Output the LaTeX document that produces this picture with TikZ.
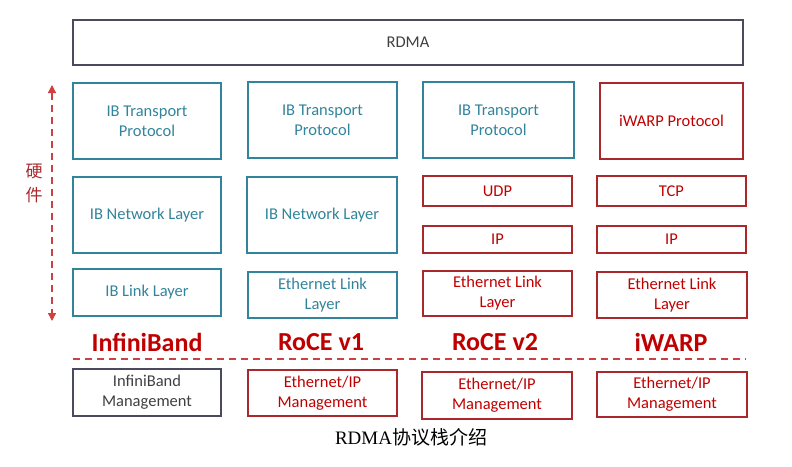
\documentclass[tikz,border=0pt]{standalone}
\usepackage{fontspec}
\setmainfont{Carlito}
\newfontfamily\cjk{Noto Sans CJK SC}
\newfontfamily\capserif{Liberation Serif}
\usetikzlibrary{arrows.meta}
\definecolor{teal}{HTML}{31849B}
\definecolor{redb}{HTML}{A8282C}
\definecolor{redt}{HTML}{C00000}
\definecolor{grayb}{HTML}{4A4A5E}
\definecolor{grayt}{HTML}{404040}
\definecolor{dashred}{HTML}{D04040}
\tikzset{
  basebox/.style={draw, line width=1.3pt, align=center, inner sep=0pt, font=\fontsize{16.5}{20}\selectfont},
  tealbox/.style={basebox, draw=teal, text=teal},
  redbox/.style={basebox, draw=redb, text=redt},
  graybox/.style={basebox, draw=grayb, text=grayt},
  stacklabel/.style={text=redt, font=\fontsize{26}{30}\selectfont\bfseries},
}
\begin{document}
\begin{tikzpicture}[x=1pt,y=-1pt]
\useasboundingbox (0,0) rectangle (792,466);
% RDMA
\node[graybox, minimum width=670pt, minimum height=45pt] (rdma) at (408,42.5) {RDMA};
% Column 1
\node[tealbox, minimum width=148pt, minimum height=76pt] (t1) at (147,121) {IB Transport\\Protocol};
\node[tealbox, minimum width=148pt, minimum height=76pt] (n1) at (147,215) {IB Network Layer};
\node[tealbox, minimum width=148pt, minimum height=47pt] (l1) at (147,292.5) {IB Link Layer};
\node[graybox, minimum width=148pt, minimum height=47pt] (m1) at (147,392.5) {InfiniBand\\Management};
% Column 2
\node[tealbox, minimum width=149pt, minimum height=76pt] (t2) at (322.5,120) {IB Transport\\Protocol};
\node[tealbox, minimum width=150pt, minimum height=76pt] (n2) at (322,215) {IB Network Layer};
\node[tealbox, minimum width=149pt, minimum height=46pt] (l2) at (322.5,295) {Ethernet Link\\Layer};
\node[redbox, minimum width=149pt, minimum height=46pt] (m2) at (322.5,393) {Ethernet/IP\\Management};
% Column 3
\node[tealbox, minimum width=151pt, minimum height=76pt] (t3) at (498.5,120) {IB Transport\\Protocol};
\node[redbox, minimum width=149pt, minimum height=30pt] (u3) at (497.5,191) {UDP};
\node[redbox, minimum width=149pt, minimum height=27pt] (i3) at (497.5,239.5) {IP};
\node[redbox, minimum width=149pt, minimum height=45pt] (l3) at (497.5,293.5) {Ethernet Link\\Layer};
\node[redbox, minimum width=150pt, minimum height=47pt] (m3) at (497,395.5) {Ethernet/IP\\Management};
% Column 4
\node[redbox, minimum width=143pt, minimum height=76pt] (t4) at (671.5,121) {iWARP Protocol};
\node[redbox, minimum width=149pt, minimum height=30pt] (u4) at (671.5,191) {TCP};
\node[redbox, minimum width=149pt, minimum height=27pt] (i4) at (671.5,239.5) {IP};
\node[redbox, minimum width=150pt, minimum height=46pt] (l4) at (672,295) {Ethernet Link\\Layer};
\node[redbox, minimum width=150pt, minimum height=45pt] (m4) at (672,394.5) {Ethernet/IP\\Management};
% Labels
\node[stacklabel] (lab1) at (147,342) {InfiniBand};
\node[stacklabel] (lab2) at (321,342) {RoCE v1};
\node[stacklabel] (lab3) at (495,342) {RoCE v2};
\node[stacklabel] (lab4) at (671,342) {iWARP};
% Dashed separator
\coordinate (sepL) at (73,359);
\coordinate (sepR) at (746,359);
\draw[dashred, line width=1.2pt, dash pattern=on 7pt off 5pt] (sepL) -- (sepR);
% Hardware arrow
\coordinate (arT) at (52,85);
\coordinate (arB) at (52,321);
\draw[dashred, line width=1.3pt, dash pattern=on 7pt off 5pt, {Triangle[width=8pt,length=8pt]}-{Triangle[width=8pt,length=8pt]}] (arT) -- (arB);
\node[text=redb, font=\cjk\fontsize{17}{24}\selectfont, align=center, inner sep=0pt] (hw) at (34,183) {硬\\件};
% Caption
\node[text=black, font=\fontsize{19}{22}\selectfont, inner sep=0pt] (cap) at (411,437) {\capserif RDMA\cjk 协议栈介绍};
\end{tikzpicture}
\end{document}
